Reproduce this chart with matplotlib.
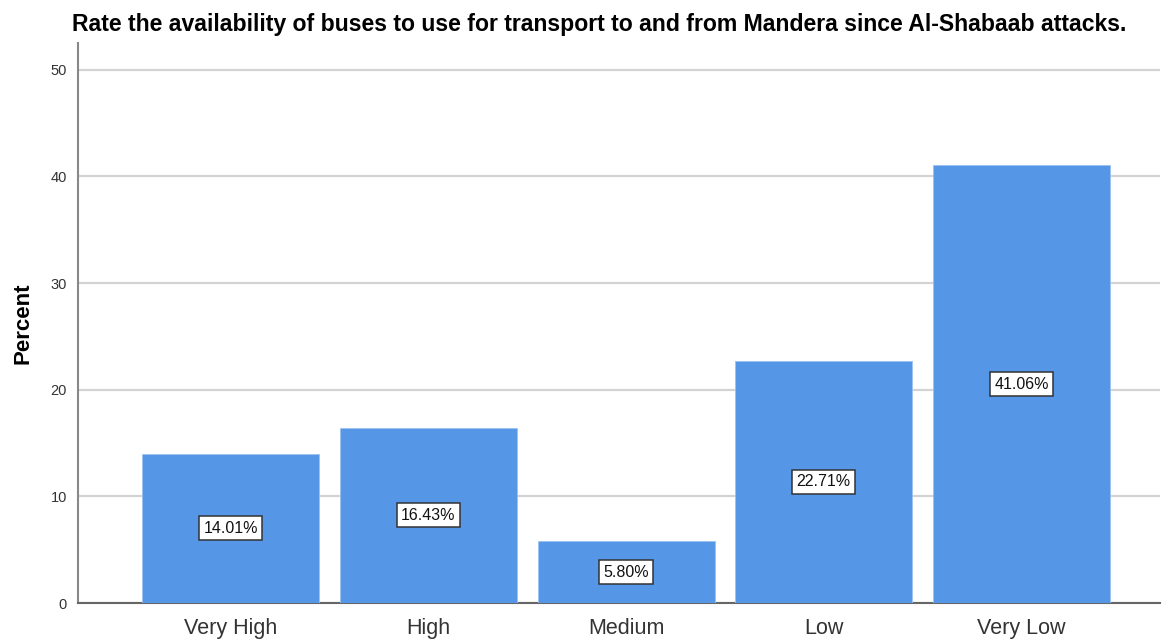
import matplotlib
matplotlib.use("Agg")
import matplotlib.pyplot as plt

categories = ["Very High", "High", "Medium", "Low", "Very Low"]
percents = [14.01, 16.43, 5.80, 22.71, 41.06]
y_ticks = [0, 10, 20, 30, 40, 50]

plt.rcParams["font.family"] = ["Liberation Sans", "DejaVu Sans"]

fig = plt.figure(figsize=(11.62, 6.39), dpi=100)
ax = fig.add_axes([0.0671, 0.0563, 0.931, 0.8764])

x = list(range(len(categories)))
bars = ax.bar(x, percents, width=0.895, color="#5596E6", edgecolor="#9CC2F0",
              linewidth=0.6, zorder=3)

for rect, val in zip(bars, percents):
    ax.text(rect.get_x() + rect.get_width() / 2, val / 2, f"{val:.2f}%",
            ha="center", va="center", fontsize=11.5, color="#111111", zorder=4,
            bbox=dict(boxstyle="square,pad=0.28", facecolor="white",
                      edgecolor="#333333", linewidth=1.1))

ax.set_xlim(-0.773, 4.70)
ax.set_ylim(0, 52.5)
ax.set_yticks(y_ticks)
ax.set_xticks(x)
ax.set_xticklabels(categories, fontsize=15.5, color="#333333")
ax.tick_params(axis="y", labelsize=10.5, length=0, pad=8, colors="#333333")
ax.tick_params(axis="x", length=0, pad=11)

ax.yaxis.grid(True, color="#D3D3D3", linewidth=1.6, zorder=0)
for side in ("top", "right"):
    ax.spines[side].set_visible(False)
ax.spines["left"].set_color("#888888")
ax.spines["left"].set_linewidth(1.5)
ax.spines["bottom"].set_color("#666666")
ax.spines["bottom"].set_linewidth(1.5)

ax.set_ylabel("Percent", fontsize=16, fontweight="bold", labelpad=12)
fig.text(0.062, 0.962, "Rate the availability of buses to use for transport to and from "
         "Mandera since Al-Shabaab attacks.", fontsize=16.6, fontweight="bold",
         ha="left", va="center")

fig.savefig("out.png", dpi=100)
